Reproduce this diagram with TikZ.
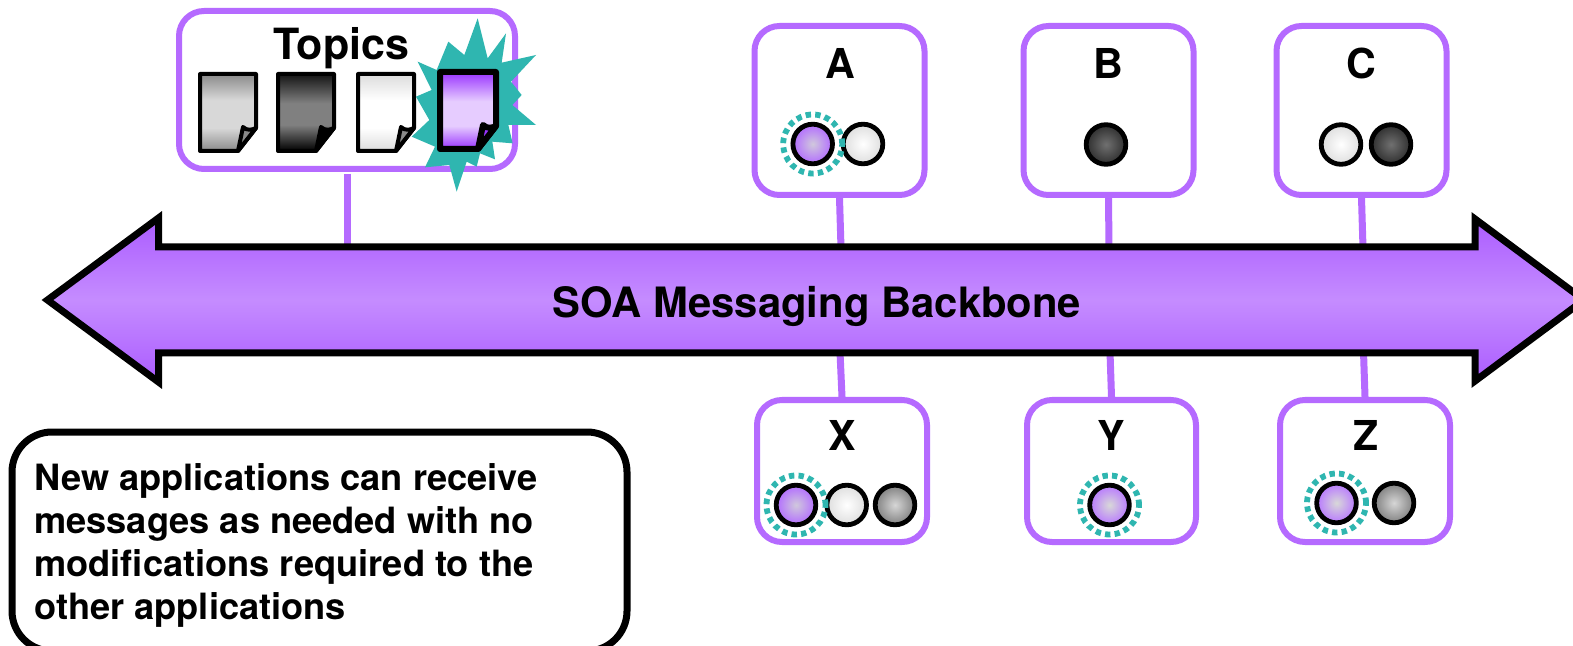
\documentclass[tikz,border=0pt]{standalone}
\usepackage{fontspec}
\setmainfont{TeX Gyre Heros}
\definecolor{vio}{HTML}{B56AFF}
\definecolor{teal2}{HTML}{2FB6B0}
\definecolor{vioA}{HTML}{AB5CFF}
\definecolor{vioB}{HTML}{C58CFF}
\definecolor{cPin}{HTML}{D0C8DC}
\definecolor{cPout}{HTML}{B26CFF}
\definecolor{cQin}{HTML}{D8D8D8}
\definecolor{cQout}{HTML}{B878FF}
\definecolor{cLout}{HTML}{DEDEDE}
\definecolor{cDin}{HTML}{707070}
\definecolor{cDout}{HTML}{2E2E2E}
\definecolor{cGin}{HTML}{D6D6D6}
\definecolor{cGout}{HTML}{808080}
\definecolor{gA}{HTML}{8A8A8A}
\definecolor{gB}{HTML}{D8D8D8}
\definecolor{kM}{HTML}{808080}
\definecolor{kE}{HTML}{141414}
\definecolor{lA}{HTML}{DCDCDC}
\definecolor{pA}{HTML}{9933FF}
\definecolor{pB}{HTML}{E6CCFF}
\pgfdeclareverticalshading{docgray}{100bp}{color(0bp)=(gA);color(25bp)=(gA);color(40bp)=(gB);color(58bp)=(gB);color(75bp)=(gA);color(100bp)=(gA)}
\pgfdeclareverticalshading{docdark}{100bp}{color(0bp)=(black);color(25bp)=(black);color(42bp)=(kM);color(56bp)=(kM);color(75bp)=(kE);color(100bp)=(kE)}
\pgfdeclareverticalshading{doclight}{100bp}{color(0bp)=(lA);color(25bp)=(lA);color(40bp)=(white);color(58bp)=(white);color(75bp)=(lA);color(100bp)=(lA)}
\pgfdeclareverticalshading{docpurple}{100bp}{color(0bp)=(pA);color(25bp)=(pA);color(40bp)=(pB);color(56bp)=(pB);color(75bp)=(pA);color(100bp)=(pA)}
\tikzset{
  x=0.5pt,y=-0.5pt,
  appbox/.style={draw=vio,line width=3pt,rounded corners=12.5pt,fill=white,inner sep=0pt},
  link/.style={draw=vio,line width=3.5pt},
  backbone/.style={draw=black,line width=3.5pt,miter limit=10,top color=vioA,bottom color=vioA,middle color=vioB},
  big/.style={font=\bfseries\fontsize{20.6}{24}\selectfont,inner sep=0pt},
  msg/.style={circle,draw=black,line width=2.4pt,minimum size=19.8pt,inner sep=0pt,shading=radial},
  mpurple/.style={msg,inner color=cPin,outer color=cPout},
  mpurpleb/.style={msg,inner color=cQin,outer color=cQout},
  mlight/.style={msg,inner color=white,outer color=cLout},
  mdark/.style={msg,inner color=cDin,outer color=cDout},
  mgray/.style={msg,inner color=cGin,outer color=cGout},
  ring/.style={circle,draw=teal2,line width=2.9pt,dash pattern=on 2.7pt off 2.1pt,minimum size=29.5pt,inner sep=0pt},
}
% x, y, line width, shading, fold colour
\newcommand{\docicon}[5]{%
  \begin{scope}[shift={(#1,#2)},line width=#3,line join=round]
    \path[draw=black,shading=#4]
      (0,0) -- (56,0) -- (56,54) -- (38,77) -- (0,77) -- cycle;
    \path[draw=black,fill=#5]
      (38,77) -- (43,53) .. controls (47,57) and (52,56) .. (56,54) -- cycle;
  \end{scope}}
\begin{document}
\begin{tikzpicture}
\useasboundingbox (0,0) rectangle (1573,646);
\fill[white] (0,0) rectangle (1573,646);

% application boxes
\node[appbox,minimum width=168pt,minimum height=79pt] (topics) at (347,90) {};
\node[appbox,minimum width=85pt,minimum height=84.5pt] (a) at (839.5,110.5) {};
\node[appbox,minimum width=85pt,minimum height=84.5pt] (b) at (1108.5,110.5) {};
\node[appbox,minimum width=85pt,minimum height=84.5pt] (c) at (1361.5,110.5) {};
\node[appbox,minimum width=85pt,minimum height=71pt] (x) at (842,471) {};
\node[appbox,minimum width=84.5pt,minimum height=71pt] (y) at (1111.5,471) {};
\node[appbox,minimum width=85pt,minimum height=71pt] (z) at (1365,471) {};

% connector ends on the backbone
\coordinate (bt) at (347,248);
\coordinate (ba) at (841,248);
\coordinate (bb) at (1109,248);
\coordinate (bc) at (1363,248);
\coordinate (bx) at (840,352);
\coordinate (by) at (1110,352);
\coordinate (bz) at (1363.5,352);
\coordinate (tstart) at (347,174);
\draw[link] (tstart) -- (bt);
\draw[link] (a.south) -- (ba);
\draw[link] (b.south) -- (bb);
\draw[link] (c.south) -- (bc);
\draw[link] (x.north) -- (bx);
\draw[link] (y.north) -- (by);
\draw[link] (z.north) -- (bz);

% backbone arrow
\path[backbone] (47.5,300) -- (158.5,218) -- (158.5,247) -- (1475,247) -- (1475,219)
  -- (1584,300) -- (1475,381) -- (1475,353) -- (158.5,353) -- (158.5,382) -- cycle;
\node[big,font=\bfseries\fontsize{20.9}{24}\selectfont] (soa) at (817,306) {SOA Messaging Backbone};

% box titles
\node[big,anchor=base,font=\bfseries\fontsize{21.5}{24}\selectfont] (ttopics) at (341.5,60) {Topics};
\node[big,anchor=base] (ta) at (840.5,79) {A};
\node[big,anchor=base] (tb) at (1108,79) {B};
\node[big,anchor=base] (tc) at (1361,79) {C};
\node[big,anchor=base] (tx) at (842,450) {X};
\node[big,anchor=base] (ty) at (1111.5,450) {Y};
\node[big,anchor=base] (tz) at (1366,450) {Z};

% topic documents
\docicon{200}{74}{2pt}{docgray}{gA}
\docicon{278}{74}{2pt}{docdark}{black}
\docicon{358}{74}{2pt}{doclight}{gA}

% burst
\begin{scope}[shift={(405,10)},x=0.16667pt,y=-0.16667pt]
\fill[teal2] (218,25) -- (248,145) -- (303,70) -- (290,158) -- (393,135) -- (318,215)
  -- (350,255) -- (322,285) -- (393,345) -- (310,345) -- (323,400) -- (262,395)
  -- (270,448) -- (225,430) -- (215,470) -- (185,455) -- (155,545) -- (133,465)
  -- (60,472) -- (90,410) -- (20,380) -- (73,330) -- (33,260) -- (80,240)
  -- (38,155) -- (95,180) -- (130,95) -- (178,135) -- cycle;
\end{scope}
\docicon{440}{72}{3pt}{docpurple}{pA}

% messages
\node[mpurple] (a1) at (812.7,144) {};
\node[mlight] (a2) at (863,144) {};
\node[mdark] (b1) at (1106,144.5) {};
\node[mlight] (c1) at (1341,144.5) {};
\node[mdark] (c2) at (1391,144.5) {};
\node[mpurple] (x1) at (796,505) {};
\node[mlight] (x2) at (846.7,505) {};
\node[mgray] (x3) at (895,505) {};
\node[mpurpleb] (y1) at (1109.5,505) {};
\node[mpurpleb] (z1) at (1336.5,503) {};
\node[mgray] (z2) at (1394,503) {};
\node[ring] (ra) at (a1) {};
\node[ring] (rx) at (x1) {};
\node[ring] (ry) at (y1) {};
\node[ring] (rz) at (z1) {};

% note
\node[draw=black,line width=3.5pt,fill=white,rounded corners=20pt,inner sep=0pt,
  minimum width=307.5pt,minimum height=109.5pt] (notebox) at (319.5,541.5) {};
\node[anchor=west,align=left,inner sep=0pt,font=\bfseries\fontsize{18.1}{21.5}\selectfont]
  (notetext) at (34,545) {New applications can receive\\messages as needed with no\\modifications required to the\\other applications};
\end{tikzpicture}
\end{document}
